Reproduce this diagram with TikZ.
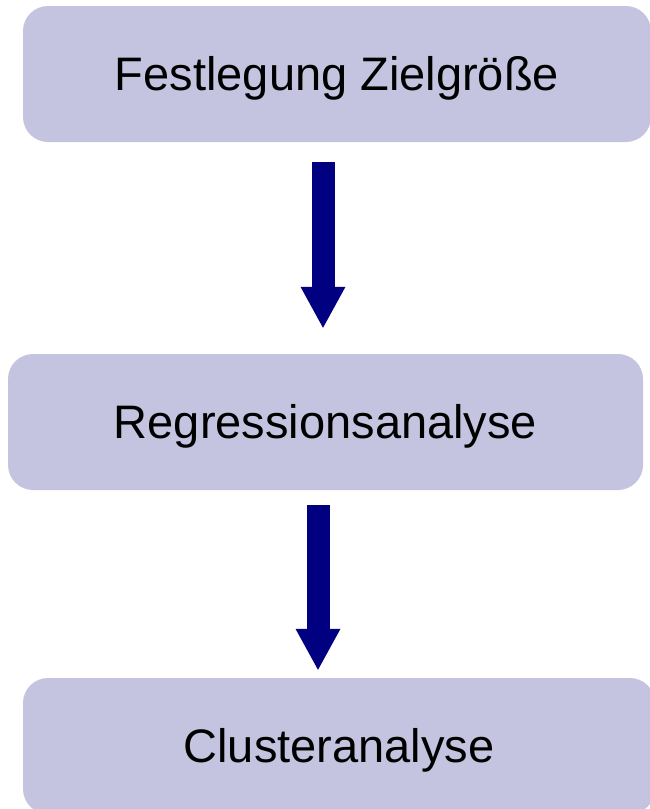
\documentclass[tikz,border=0pt]{standalone}
\usepackage{fontspec}
\setmainfont{Liberation Sans}
\usetikzlibrary{arrows.meta, positioning}
\definecolor{BoxLavender}{HTML}{C4C4E0}
\definecolor{ArrowNavy}{HTML}{000080}

\begin{document}
\begin{tikzpicture}[
        x=1pt, y=-1pt,
        % Estilo de los bloques
        stepbox/.style={
                rectangle,
                rounded corners=25pt,
                minimum height=136pt,
                fill=BoxLavender,
                draw=none,
                text=black,
                font=\fontsize{47}{56}\selectfont,
                text height=35pt,
                text depth=2pt
            },
        % Flechas de bloque
        flowarrow/.style={
                -{Triangle[width=45pt, length=41pt, line width'=0pt]},
                line width=23pt,
                color=ArrowNavy
            }
    ]

    \useasboundingbox (0,0) rectangle (650,809);

    % Bloques
    \node[stepbox, minimum width=628pt] (festlegung) at (337,74) {Festlegung Zielgröße};
    \node[stepbox, minimum width=635pt] (regression) at (325.5,422) {Regressionsanalyse};
    \node[stepbox, minimum width=632pt] (cluster) at (339,746) {Clusteranalyse};

    % Flechas entre bloques
    \draw[flowarrow, shorten <=20pt, shorten >=26pt]
        ([xshift=-14pt]festlegung.south) -- ([xshift=-2.5pt]regression.north);
    \draw[flowarrow, shorten <=15pt, shorten >=8pt]
        ([xshift=-7.5pt]regression.south) -- ([xshift=-21pt]cluster.north);

\end{tikzpicture}
\end{document}
